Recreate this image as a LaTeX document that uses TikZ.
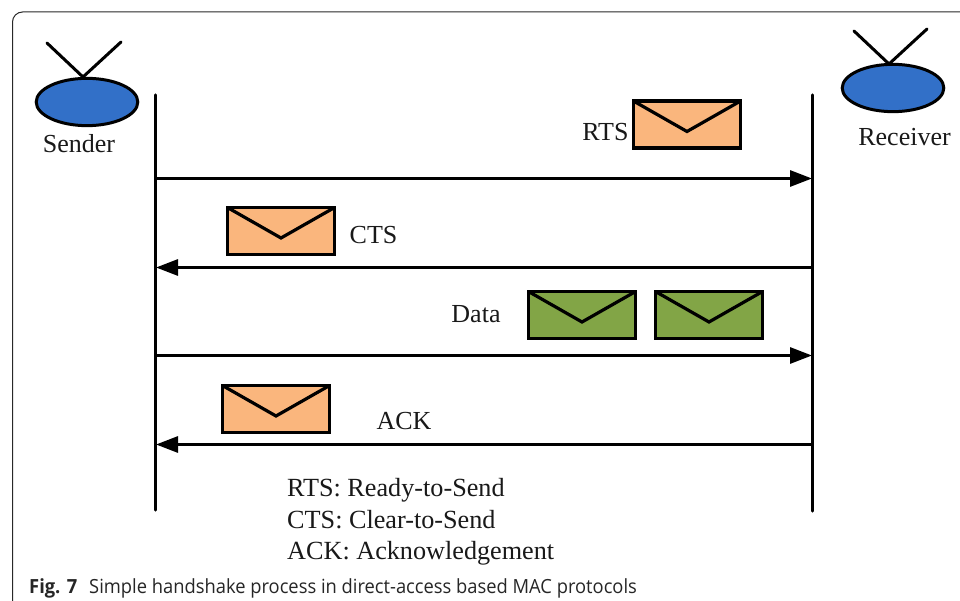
\documentclass[tikz,border=0pt]{standalone}
\usepackage{fontspec}
\setmainfont{Liberation Serif}
\newfontfamily\capfont[FakeStretch=0.94]{Open Sans}
\usetikzlibrary{arrows.meta,calc,shapes.geometric}
\definecolor{radioblue}{RGB}{50,112,200}
\definecolor{envo}{RGB}{250,182,125}
\definecolor{envg}{RGB}{130,165,70}
\definecolor{framec}{RGB}{40,40,40}
\tikzset{
  x=1pt,y=-1pt,
  lbl/.style={inner sep=0pt,font=\fontsize{26}{30}\selectfont,text=black!90},
  keytext/.style={inner sep=0pt,anchor=base west,font=\fontsize{26.2}{30}\selectfont,text=black!90},
  radio/.style={ellipse,draw=black,line width=3pt,fill=radioblue,minimum width=101.6pt,minimum height=47.3pt,inner sep=0pt},
  stem/.style={line width=3pt,line cap=round},
  lifeline/.style={line width=3.2pt,line cap=round},
  msg/.style={line width=3pt,-{Triangle[length=22pt,width=16pt]},shorten >=0.5pt},
  envbase/.style={draw=black,line width=3.3pt,minimum width=107.3pt,minimum height=47.1pt,inner sep=0pt,
    path picture={\draw[black,line width=3.2pt] (path picture bounding box.north west) -- ($(path picture bounding box.center)+(0,7)$) -- (path picture bounding box.north east);}},
  envorange/.style={envbase,fill=envo},
  envgreen/.style={envbase,fill=envg},
}
\begin{document}
\begin{tikzpicture}
\useasboundingbox (0,0) rectangle (960,601);
\fill[white] (0,0) rectangle (960,601);
\draw[framec,line width=1pt,rounded corners=10pt] (12.5,601) -- (12.5,12) -- (975,12);

\node[radio] (sender) at (87,102) {};
\node[radio] (receiver) at (893,88) {};
\coordinate (antSL) at (47,43); \coordinate (antSR) at (121,42); \coordinate (antS) at (83,77);
\coordinate (antRL) at (854,31); \coordinate (antRR) at (927,29); \coordinate (antR) at (889,64);
\draw[stem] (antSL) -- (antS) -- (antSR);
\draw[stem] (antRL) -- (antR) -- (antRR);
\node[lbl] (senderl) at (79,144) {Sender};
\node[lbl] (receiverl) at (904.5,137) {Receiver};

\coordinate (stop) at (155.5,95); \coordinate (sbot) at (155.5,510);
\coordinate (rtop) at (812.5,95); \coordinate (rbot) at (812.5,511);
\draw[lifeline] (stop) -- (sbot);
\draw[lifeline] (rtop) -- (rbot);

\coordinate (s1) at (155.5,178.5); \coordinate (r1) at (812.5,178.5);
\coordinate (s2) at (155.5,267.5); \coordinate (r2) at (812.5,267.5);
\coordinate (s3) at (155.5,355.5); \coordinate (r3) at (812.5,355.5);
\coordinate (s4) at (155.5,444.5); \coordinate (r4) at (812.5,444.5);
\draw[msg] (s1) -- (r1);
\draw[msg] (r2) -- (s2);
\draw[msg] (s3) -- (r3);
\draw[msg] (r4) -- (s4);

\node[envorange] (rtsenv) at (687,124.5) {};
\node[envorange] (ctsenv) at (281,231) {};
\node[envgreen] (data1) at (582,315) {};
\node[envgreen] (data2) at (709,315) {};
\node[envorange] (ackenv) at (276,409) {};

\node[lbl] (rts) at (605.5,132) {RTS};
\node[lbl] (cts) at (373.5,235) {CTS};
\node[lbl] (data) at (476,314) {Data};
\node[lbl] (ack) at (404,421) {ACK};

\node[keytext] (k1) at (287,496.5) {RTS: Ready-to-Send};
\node[keytext] (k2) at (287,528) {CTS: Clear-to-Send};
\node[keytext] (k3) at (287,559) {ACK: Acknowledgement};

\node[anchor=west,inner sep=0pt,font=\capfont\fontsize{19.5}{24}\selectfont,text=black!85] (cap) at (29,588)
  {\textbf{Fig. 7}\hspace{12pt}Simple handshake process in direct-access based MAC protocols};
\end{tikzpicture}
\end{document}
